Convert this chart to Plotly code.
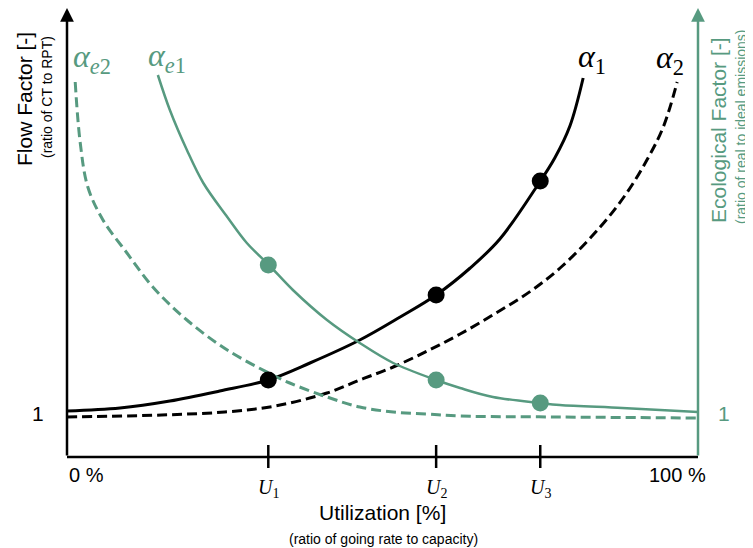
import plotly.graph_objects as go

# ---------------- data (schematic values) ----------------
x_alpha1 = [0, 8.4, 16.3, 24.2, 31.9, 38.5, 46.4, 52.8, 58.5, 63.9, 68.6, 74.6, 77.3, 79.7, 81.8]
y_alpha1 = [1.02, 1.05, 1.12, 1.22, 1.33, 1.50, 1.73, 1.96, 2.18, 2.45, 2.74, 3.28, 3.55, 3.87, 4.35]

x_alpha2 = [0, 15, 25, 33, 41.2, 46.4, 51.7, 57.1, 62.3, 68, 73.5, 78.5, 84.5, 88.7, 91.9, 94.5, 96.7]
y_alpha2 = [0.96, 0.98, 1.01, 1.07, 1.20, 1.33, 1.46, 1.62, 1.79, 2.00, 2.22, 2.47, 2.86, 3.20, 3.53, 3.86, 4.31]

x_alpha_e1 = [14.4, 16.3, 19.0, 21.6, 25.4, 28.5, 32.0, 35.8, 41.2, 46.4, 51.7, 58.5, 62.3, 67.5, 75.0, 78.1, 88, 100]
y_alpha_e1 = [4.38, 4.03, 3.63, 3.30, 2.96, 2.70, 2.48, 2.23, 1.93, 1.70, 1.50, 1.33, 1.25, 1.16, 1.10, 1.08, 1.05, 1.01]

x_alpha_e2 = [1.3, 2.1, 3.3, 5.7, 9.5, 13.6, 19.0, 25.4, 32.6, 35.3, 41.2, 46.4, 51.7, 57.1, 62.3, 78.1, 100]
y_alpha_e2 = [4.31, 3.70, 3.26, 2.93, 2.60, 2.26, 1.93, 1.63, 1.38, 1.30, 1.16, 1.06, 1.01, 0.99, 0.97, 0.96, 0.95]

u_values = [31.9, 58.5, 75.0]
u_labels = ["<i>U</i><sub>1</sub>", "<i>U</i><sub>2</sub>", "<i>U</i><sub>3</sub>"]
dots_alpha1 = [1.33, 2.18, 3.32]
dots_alpha_e1 = [2.48, 1.33, 1.10]

x_min, x_max = 0, 100
y_axis_base = 0.56
y_axis_top = 5.05
y_one = 1.0

TEAL = "#579A80"
BLACK = "#000000"
SANS = "Liberation Sans, Arial, sans-serif"
SERIF = "Liberation Serif, DejaVu Serif, serif"

# page-pixel helpers for placing layout text (page has an 8px body margin)
PAGE_OFF = 8
def xpx(p):
    return (p - 67) / 6.31

def ypx(p):
    return 1 + (413 - p) / 100

fig = go.Figure()

fig.add_trace(go.Scatter(x=x_alpha2, y=y_alpha2, mode="lines", line=dict(color=BLACK, width=3, dash="10px,5px", shape="spline"), hoverinfo="skip"))
fig.add_trace(go.Scatter(x=x_alpha1, y=y_alpha1, mode="lines", line=dict(color=BLACK, width=3, shape="spline"), hoverinfo="skip"))
fig.add_trace(go.Scatter(x=x_alpha_e2, y=y_alpha_e2, mode="lines", line=dict(color=TEAL, width=3, dash="10px,5px", shape="spline"), hoverinfo="skip"))
fig.add_trace(go.Scatter(x=x_alpha_e1, y=y_alpha_e1, mode="lines", line=dict(color=TEAL, width=2.5, shape="spline"), hoverinfo="skip"))
fig.add_trace(go.Scatter(x=u_values, y=dots_alpha1, mode="markers", marker=dict(color=BLACK, size=17), hoverinfo="skip"))
fig.add_trace(go.Scatter(x=u_values, y=dots_alpha_e1, mode="markers", marker=dict(color=TEAL, size=17), hoverinfo="skip"))

shapes = [
    dict(type="line", xref="x", yref="y", x0=x_min, x1=x_max, y0=y_axis_base, y1=y_axis_base,
         line=dict(color=BLACK, width=2.5)),
]
for u in u_values:
    shapes.append(dict(type="line", xref="x", yref="y", x0=u, x1=u, y0=ypx(445), y1=ypx(468),
                       line=dict(color=BLACK, width=2.5)))

annotations = [
    dict(x=x_min, y=y_axis_top, ax=x_min, ay=y_axis_base, xref="x", yref="y", axref="x", ayref="y",
         showarrow=True, arrowhead=2, arrowsize=1.1, arrowwidth=2.5, arrowcolor=BLACK, text="", standoff=0),
    dict(x=x_max, y=y_axis_top, ax=x_max, ay=y_axis_base, xref="x", yref="y", axref="x", ayref="y",
         showarrow=True, arrowhead=2, arrowsize=1.1, arrowwidth=2.5, arrowcolor=TEAL, text="", standoff=0),
]

def txt(text, x, y, size, color=BLACK, family=SANS, angle=0):
    annotations.append(dict(text=text, x=x, y=y, xref="x", yref="y", showarrow=False,
                            xanchor="center", yanchor="middle", textangle=angle,
                            font=dict(size=size, color=color, family=family)))

txt("Flow Factor [-]", xpx(24), ypx(99), 21, angle=-90)
txt("(ratio of CT to RPT)", xpx(47), ypx(97), 14, angle=-90)
txt("Ecological Factor [-]", xpx(718), ypx(130), 21, color=TEAL, angle=-90)
txt("(ratio of real to ideal emissions)", xpx(741), ypx(127), 14, color=TEAL, angle=-90)
txt("1", xpx(38), y_one, 21)
txt("1", xpx(724), y_one, 21, color=TEAL)
txt("0 %", xpx(86), ypx(475), 20)
txt("100 %", xpx(677), ypx(475), 20)
for u, lab in zip(u_values, u_labels):
    txt(lab, u, ypx(488), 20, family=SERIF)
txt("Utilization [%]", xpx(382), ypx(512), 21)
txt("(ratio of going rate to capacity)", xpx(383), ypx(539), 14)
txt("<i>α</i><sub>1</sub>", xpx(592), ypx(58), 32, family=SERIF)
txt("<i>α</i><sub>2</sub>", xpx(670), ypx(59), 32, family=SERIF)
txt("<i>α</i><sub><i>e</i>2</sub>", xpx(92), ypx(58), 32, color=TEAL, family=SERIF)
txt("<i>α</i><sub><i>e</i>1</sub>", xpx(167), ypx(57), 32, color=TEAL, family=SERIF)

fig.update_layout(
    width=753 - PAGE_OFF, height=548 - PAGE_OFF,
    margin=dict(l=0, r=0, t=0, b=0),
    paper_bgcolor="white", plot_bgcolor="white",
    showlegend=False,
    xaxis=dict(range=[xpx(PAGE_OFF), xpx(753)], visible=False, fixedrange=True),
    yaxis=dict(range=[ypx(548), ypx(PAGE_OFF)], visible=False, fixedrange=True),
    shapes=shapes, annotations=annotations,
)

fig.write_html("out.html")
